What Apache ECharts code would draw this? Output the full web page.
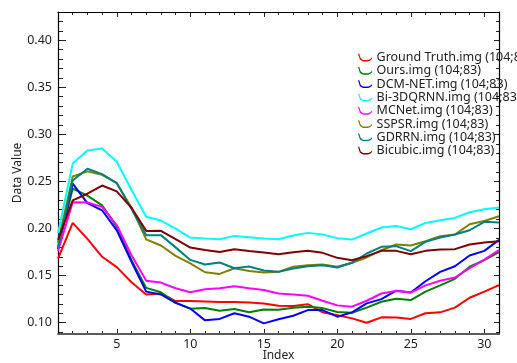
<!DOCTYPE html>
<html>
<head>
<meta charset="utf-8">
<script src="https://cdn.jsdelivr.net/npm/echarts@6/dist/echarts.min.js"></script>
<style>html,body{margin:0;padding:0;background:#fff;}#c{width:517px;height:363px;}</style>
</head>
<body>
<div id="c"></div>
<script>
var indices = [];
for (var k = 1; k <= 31; k++) indices.push(k);

var seriesNames = ["Ground Truth.img (104;83)", "Ours.img (104;83)", "DCM-NET.img (104;83)", "Bi-3DQRNN.img (104;83)", "MCNet.img (104;83)", "SSPSR.img (104;83)", "GDRRN.img (104;83)", "Bicubic.img (104;83)"];
var seriesColors = ["#ff0000", "#008000", "#0000ff", "#00ffff", "#ff00ff", "#808000", "#008080", "#800000"];

var groundTruth = [0.168, 0.206, 0.189, 0.170, 0.159, 0.143, 0.130, 0.131, 0.123, 0.123, 0.1225, 0.122, 0.122, 0.1215, 0.1205, 0.118, 0.1177, 0.1196, 0.111, 0.108, 0.1046, 0.100, 0.1057, 0.1055, 0.104, 0.110, 0.111, 0.116, 0.1265, 0.133, 0.140];
var ours = [0.180, 0.2424, 0.235, 0.2247, 0.2018, 0.1664, 0.137, 0.1323, 0.1213, 0.1149, 0.1156, 0.1128, 0.1145, 0.111, 0.114, 0.1138, 0.116, 0.117, 0.1155, 0.1113, 0.1106, 0.116, 0.1223, 0.1254, 0.124, 0.133, 0.1396, 0.1466, 0.1594, 0.1664, 0.175];
var dcmNet = [0.178, 0.2477, 0.227, 0.2194, 0.198, 0.1647, 0.133, 0.130, 0.121, 0.115, 0.1025, 0.104, 0.110, 0.1064, 0.0993, 0.1036, 0.1074, 0.1134, 0.1134, 0.1064, 0.111, 0.1205, 0.125, 0.134, 0.132, 0.144, 0.154, 0.160, 0.1714, 0.1763, 0.188];
var bi3dqrnn = [0.195, 0.269, 0.283, 0.285, 0.271, 0.241, 0.2125, 0.2085, 0.200, 0.1904, 0.1894, 0.1887, 0.1922, 0.1908, 0.1894, 0.1887, 0.1926, 0.1954, 0.1936, 0.1898, 0.1883, 0.1947, 0.2011, 0.2028, 0.1993, 0.206, 0.2088, 0.2113, 0.2173, 0.2205, 0.2223];
var mcnet = [0.176, 0.228, 0.2276, 0.223, 0.2035, 0.1717, 0.1445, 0.1426, 0.1366, 0.1323, 0.1355, 0.1366, 0.1387, 0.1366, 0.1348, 0.131, 0.130, 0.1286, 0.1233, 0.1184, 0.117, 0.1233, 0.131, 0.1336, 0.132, 0.1396, 0.1445, 0.148, 0.158, 0.167, 0.177];
var sspsr = [0.185, 0.2553, 0.2607, 0.257, 0.2482, 0.222, 0.1885, 0.182, 0.171, 0.163, 0.1536, 0.1518, 0.1578, 0.155, 0.1532, 0.154, 0.1594, 0.1611, 0.1618, 0.1594, 0.1636, 0.1693, 0.177, 0.183, 0.182, 0.1866, 0.1919, 0.1936, 0.2046, 0.2081, 0.2131];
var gdrrn = [0.180, 0.251, 0.2635, 0.2578, 0.2482, 0.221, 0.193, 0.193, 0.180, 0.1667, 0.1618, 0.1639, 0.1578, 0.1596, 0.1555, 0.154, 0.1576, 0.160, 0.1611, 0.1587, 0.1636, 0.1735, 0.1806, 0.1813, 0.176, 0.1859, 0.1905, 0.1936, 0.1982, 0.2071, 0.2064];
var bicubic = [0.188, 0.230, 0.237, 0.2457, 0.2395, 0.222, 0.1975, 0.1976, 0.1887, 0.1798, 0.1773, 0.1752, 0.178, 0.1762, 0.1745, 0.1728, 0.1749, 0.1763, 0.1742, 0.1689, 0.1664, 0.1707, 0.1763, 0.1763, 0.1728, 0.1763, 0.1777, 0.1781, 0.183, 0.1852, 0.1866];

var allValues = [groundTruth, ours, dcmNet, bi3dqrnn, mcnet, sspsr, gdrrn, bicubic];

var X_MIN = 1, X_MAX = 31, Y_MIN = 0.088, Y_MAX = 0.43;
var FONT = "Noto Sans";
var iconPath = 'path://M0,0 L2,6 L5,8.5 L12,8.5 L15,7 L17,5 L17,7 L15,9 L12,10.5 L5,10.5 L1,8 L-1.5,0.5 Z';

var G = { left: 58, right: 18, top: 12, bottom: 29 };

var series = allValues.map(function (vals, s) {
  return {
    name: seriesNames[s],
    type: 'line',
    xAxisIndex: 0, yAxisIndex: 0,
    data: indices.map(function (x, i) { return [x, vals[i]]; }),
    showSymbol: false,
    symbol: 'none',
    lineStyle: { width: 2, color: seriesColors[s] },
    itemStyle: { color: seriesColors[s] },
    animation: false
  };
});

// grids: 0 main; 1..8 thin strips whose split lines act as tick marks
var grids = [
  { left: G.left, right: G.right, top: G.top, bottom: G.bottom, outerBoundsMode: 'none', containLabel: false },
  { left: G.left, right: G.right, bottom: G.bottom, height: 5, outerBoundsMode: 'none' },   // bottom major
  { left: G.left, right: G.right, bottom: G.bottom, height: 3, outerBoundsMode: 'none' },   // bottom minor
  { left: G.left, right: G.right, top: G.top, height: 5, outerBoundsMode: 'none' },         // top major
  { left: G.left, right: G.right, top: G.top, height: 3, outerBoundsMode: 'none' },         // top minor
  { left: G.left, width: 8, top: G.top, bottom: G.bottom, outerBoundsMode: 'none' },        // left major
  { left: G.left, width: 5, top: G.top, bottom: G.bottom, outerBoundsMode: 'none' },        // left minor
  { right: G.right, width: 5, top: G.top, bottom: G.bottom, outerBoundsMode: 'none' },      // right major
  { right: G.right, width: 3, top: G.top, bottom: G.bottom, outerBoundsMode: 'none' }       // right minor
];

var tickLine = { show: true, lineStyle: { color: '#222', width: 1 } };
function stripX(gi, splitNumber) {
  return { type: 'value', gridIndex: gi, min: X_MIN, max: X_MAX, splitNumber: splitNumber,
    axisLine: { show: false }, axisTick: { show: false }, axisLabel: { show: false }, splitLine: tickLine };
}
function stripY(gi, splitNumber) {
  return { type: 'value', gridIndex: gi, min: Y_MIN, max: Y_MAX, splitNumber: splitNumber,
    axisLine: { show: false }, axisTick: { show: false }, axisLabel: { show: false }, splitLine: tickLine };
}
function hiddenX(gi) { return { type: 'value', gridIndex: gi, min: X_MIN, max: X_MAX, show: false }; }
function hiddenY(gi) { return { type: 'value', gridIndex: gi, min: Y_MIN, max: Y_MAX, show: false }; }

var xAxes = [
  {
    type: 'value', gridIndex: 0, min: X_MIN, max: X_MAX, splitNumber: 6, position: 'bottom',
    axisLine: { show: true, onZero: false, lineStyle: { color: '#5a5a5a', width: 2 } },
    axisTick: { show: false }, splitLine: { show: false },
    axisLabel: { show: true, margin: 4, color: '#222', fontFamily: FONT, fontSize: 12.5, showMinLabel: false, showMaxLabel: false },
    name: 'Index', nameLocation: 'middle', nameGap: 16, nameMoveOverlap: false,
    nameTextStyle: { fontFamily: FONT, fontSize: 12, color: '#222' }
  },
  {
    type: 'value', gridIndex: 0, min: X_MIN, max: X_MAX, position: 'top',
    axisLine: { show: true, onZero: false, lineStyle: { color: '#000', width: 1.2 } },
    axisTick: { show: false }, splitLine: { show: false }, axisLabel: { show: false }
  },
  stripX(1, 6), stripX(2, 30), stripX(3, 6), stripX(4, 30),
  hiddenX(5), hiddenX(6), hiddenX(7), hiddenX(8)
];

var yAxes = [
  {
    type: 'value', gridIndex: 0, min: Y_MIN, max: Y_MAX, splitNumber: 7, position: 'left',
    axisLine: { show: true, onZero: false, lineStyle: { color: '#000', width: 1.2 } },
    axisTick: { show: false }, splitLine: { show: false },
    axisLabel: { show: true, margin: 6, color: '#222', fontFamily: FONT, fontSize: 12.5, showMinLabel: false, showMaxLabel: false,
      formatter: function (v) { return v.toFixed(2); } },
    name: 'Data Value', nameLocation: 'middle', nameGap: 34, nameMoveOverlap: false,
    nameTextStyle: { fontFamily: FONT, fontSize: 12, color: '#222' }
  },
  {
    type: 'value', gridIndex: 0, min: Y_MIN, max: Y_MAX, position: 'right',
    axisLine: { show: true, onZero: false, lineStyle: { color: '#000', width: 1.2 } },
    axisTick: { show: false }, splitLine: { show: false }, axisLabel: { show: false }
  },
  hiddenY(1), hiddenY(2), hiddenY(3), hiddenY(4),
  stripY(5, 7), stripY(6, 34), stripY(7, 7), stripY(8, 34)
];

var chart = echarts.init(document.getElementById('c'), null, { renderer: 'canvas' });
chart.setOption({
  backgroundColor: '#fff',
  animation: false,
  grid: grids,
  xAxis: xAxes,
  yAxis: yAxes,
  legend: {
    orient: 'vertical',
    left: 358,
    top: 51,
    padding: 0,
    itemGap: 0.3,
    itemWidth: 17,
    itemHeight: 8,
    icon: iconPath,
    data: seriesNames,
    textStyle: { fontFamily: FONT, fontSize: 12.5, color: '#222', lineHeight: 10, padding: [0, 0, 0, -2] }
  },
  series: series
});
</script>
</body>
</html>
